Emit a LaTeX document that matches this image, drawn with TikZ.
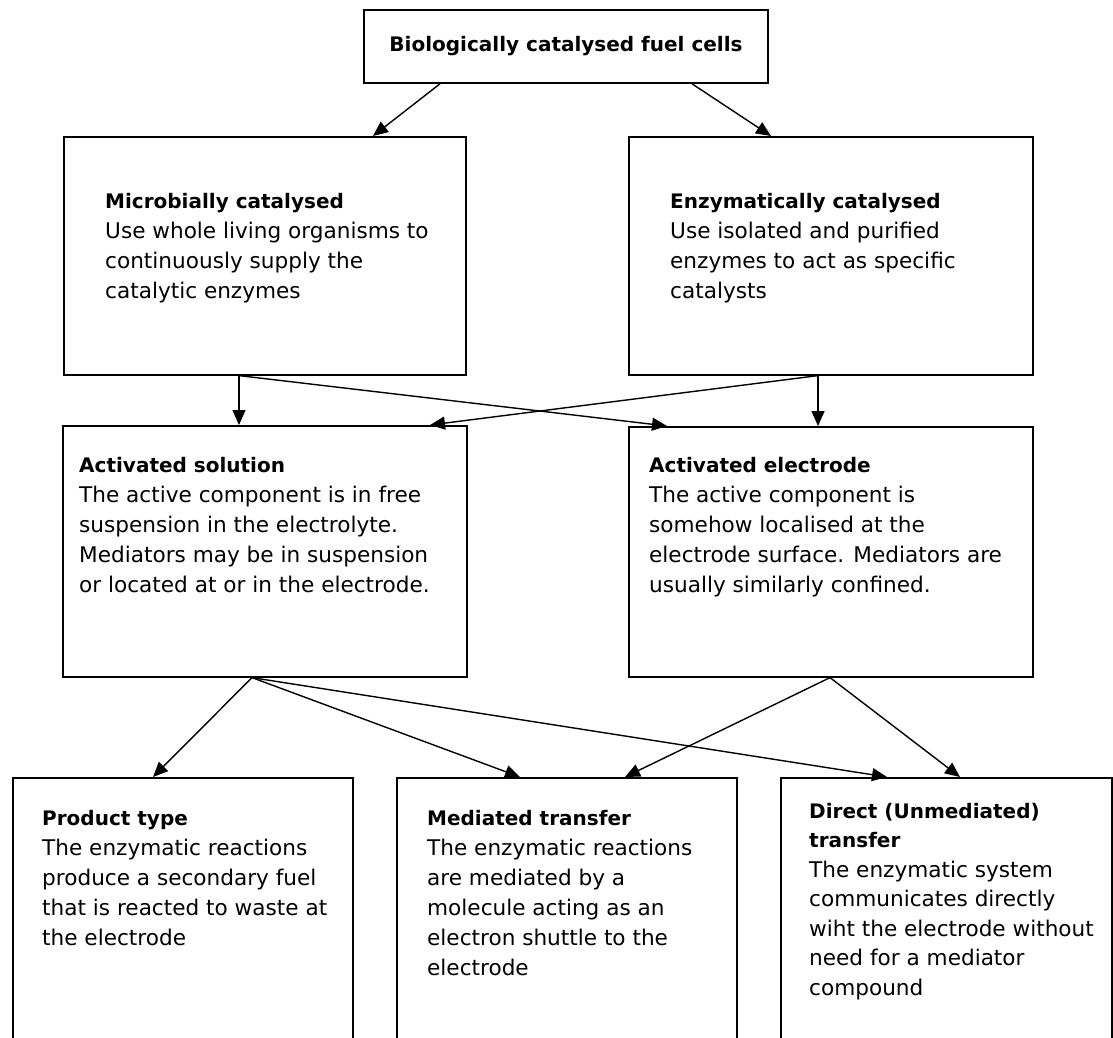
\documentclass[tikz,border=0pt]{standalone}
\usepackage{fontspec}
\setmainfont{DejaVu Sans}
\usepackage{tikz}
\usetikzlibrary{arrows.meta,positioning,calc}
\newcommand{\boxtitle}[1]{{\fontsize{20}{30}\selectfont\bfseries #1}}
\newcommand{\boxbody}{\fontsize{21.6}{30}\selectfont}

\begin{document}
\begin{tikzpicture}[x=1pt,y=-1pt,
  box/.style={draw, line width=1.6pt, inner sep=0pt, anchor=north west},
  txt/.style={anchor=base west, inner sep=0pt, font=\boxbody},
  arr/.style={line width=1.4pt, -{Triangle[length=15pt,width=13pt]}}]
\path[use as bounding box, fill=white] (0,0) rectangle (1113,1037);
\node[draw, line width=1.6pt, inner sep=0pt, minimum width=404pt, minimum height=73pt]
  (bfc) at (566,46.5) {\boxtitle{Biologically catalysed fuel cells}};
\node[box, minimum width=402pt, minimum height=238pt] (micro) at (63,136) {};
\node[box, minimum width=404pt, minimum height=238pt] (enz) at (628,136) {};
\node[box, minimum width=404pt, minimum height=251pt] (sol) at (62,425) {};
\node[box, minimum width=404pt, minimum height=250pt] (elec) at (628,426) {};
\node[box, minimum width=340pt, minimum height=300pt] (prod) at (12,777) {};
\node[box, minimum width=340pt, minimum height=300pt] (med) at (396,777) {};
\node[box, minimum width=331pt, minimum height=300pt] (dir) at (780,777) {};
\node[txt] (micro-txt) at (105,208) {\parbox[t]{350pt}{\boxtitle{Microbially catalysed}\\
  Use whole living organisms to\\ continuously supply the\\ catalytic enzymes}};
\node[txt] (enz-txt) at (670,208) {\parbox[t]{350pt}{\boxtitle{Enzymatically catalysed}\\
  Use isolated and purified\\ enzymes to act as specific\\ catalysts}};
\node[txt] (sol-txt) at (79,472) {\parbox[t]{380pt}{\boxtitle{Activated solution}\\
  The active component is in free\\ suspension in the electrolyte.\\
  Mediators may be in suspension\\ or located at or in the electrode.}};
\node[txt] (elec-txt) at (649,472) {\parbox[t]{380pt}{\boxtitle{Activated electrode}\\
  The active component is\\ somehow localised at the\\
  electrode surface. Mediators are\\ usually similarly confined.}};
\node[txt] (prod-txt) at (42,825) {\parbox[t]{310pt}{\boxtitle{Product type}\\
  The enzymatic reactions\\ produce a secondary fuel\\
  that is reacted to waste at\\ the electrode}};
\node[txt] (med-txt) at (427,825) {\parbox[t]{310pt}{\boxtitle{Mediated transfer}\\
  The enzymatic reactions\\ are mediated by a\\ molecule acting as an\\
  electron shuttle to the\\ electrode}};
\node[txt] (dir-txt) at (809,818) {\parbox[t]{300pt}{\fontsize{21.6}{29.5}\selectfont
  \boxtitle{Direct (Unmediated)}\\ \boxtitle{transfer}\\
  The enzymatic system\\ communicates directly\\ wiht the electrode without\\
  need for a mediator\\ compound}};
\coordinate (micro-out) at ([xshift=176pt]micro.south west);
\coordinate (enz-out) at ([xshift=190pt]enz.south west);
\coordinate (sol-out) at ([xshift=190pt]sol.south west);
\coordinate (elec-out) at ([xshift=202pt]elec.south west);
\draw[arr] ([xshift=-126pt]bfc.south) -- ([xshift=310pt]micro.north west);
\draw[arr] ([xshift=126pt]bfc.south) -- ([xshift=143pt]enz.north west);
\draw[arr] (micro-out) -- (sol.north -| micro-out);
\draw[arr] (micro-out) -- ([xshift=39pt]elec.north west);
\draw[arr] (enz-out) -- (elec.north -| enz-out);
\draw[arr] (enz-out) -- ([xshift=368pt]sol.north west);
\draw[arr] (sol-out) -- ([xshift=141pt]prod.north west);
\draw[arr] (sol-out) -- ([xshift=124pt]med.north west);
\draw[arr] (sol-out) -- ([xshift=107pt]dir.north west);
\draw[arr] (elec-out) -- ([xshift=229pt]med.north west);
\draw[arr] (elec-out) -- ([xshift=180pt]dir.north west);
\end{tikzpicture}
\end{document}
